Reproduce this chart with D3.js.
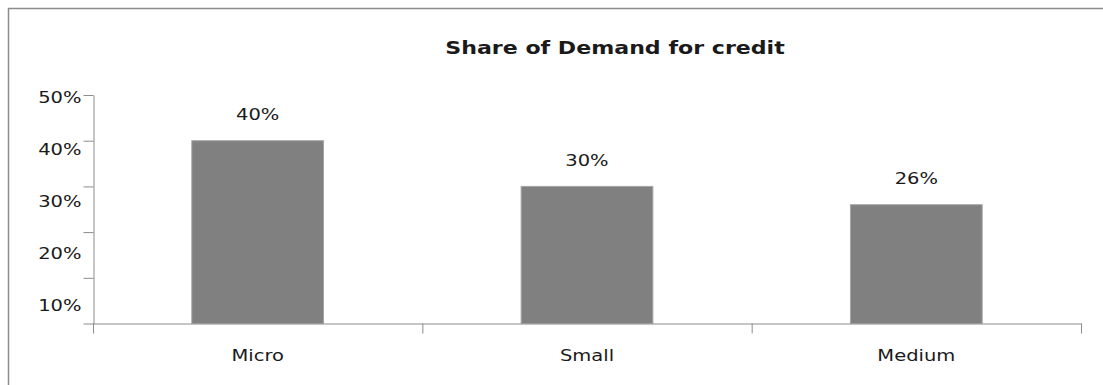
<!DOCTYPE html>
<html>
<head>
<meta charset="utf-8">
<script src="https://cdn.jsdelivr.net/npm/d3@7/dist/d3.min.js"></script>
<style>
  body { margin: 0; background: #fff; }
  text { font-family: "DejaVu Sans", Verdana, sans-serif; fill: #1a1a1a; }
</style>
</head>
<body>
<div id="chart"></div>
<script>
// Chart data
var categories = ["Micro", "Small", "Medium"];
var shares = [40, 30, 26];
var yTicks = [0, 10, 20, 30, 40, 50];
var yTickLabels = ["", "10%", "20%", "30%", "40%", "50%"];
var chartTitle = "Share of Demand for credit";

var svgWidth = 1103;
var svgHeight = 385;

// the picture is stretched sideways, so text gets stretched too
var stretch = 1.3;

var svg = d3.select("#chart")
  .append("svg")
  .attr("width", svgWidth)
  .attr("height", svgHeight);

// frame: only top and left edges show
svg.append("path")
  .attr("d", "M8.5,385 V8.5 H1103")
  .attr("fill", "none")
  .attr("stroke", "#8c8c8c")
  .attr("stroke-width", 1.5);

function widen(sel) {
  sel.each(function() {
    var w = this.getComputedTextLength();
    d3.select(this)
      .attr("textLength", w * stretch)
      .attr("lengthAdjust", "spacingAndGlyphs");
  });
}

// scales
var x = d3.scaleBand()
  .domain(categories)
  .range([93, 1081])
  .paddingInner(0.6)
  .paddingOuter(0.3);

var xEdge = d3.scaleLinear()
  .domain([0, categories.length])
  .range([93, 1081]);

var y = d3.scaleLinear()
  .domain([0, 50])
  .range([323.5, 95]);

// tick labels sit a bit lower than their ticks in the original
var yLabel = d3.scaleLinear()
  .domain([10, 50])
  .range([305, 97]);

// title
svg.append("text")
  .attr("x", 615)
  .attr("y", 54)
  .attr("text-anchor", "middle")
  .style("font-size", "17px")
  .style("font-weight", "bold")
  .text(chartTitle)
  .call(widen);

// bars
svg.selectAll(".bar")
  .data(shares)
  .enter()
  .append("rect")
  .attr("class", "bar")
  .attr("x", (d, i) => x(categories[i]))
  .attr("y", d => y(d))
  .attr("width", x.bandwidth())
  .attr("height", d => y(0) - y(d))
  .attr("fill", "#808080")
  .attr("stroke", "#a6a6a6")
  .attr("stroke-width", 1);

// y axis
var yAxis = svg.append("g")
  .attr("transform", "translate(93.5,0)")
  .call(d3.axisLeft(y)
    .tickValues(yTicks)
    .tickSize(10)
    .tickSizeOuter(0)
    .tickPadding(2)
    .tickFormat((d, i) => yTickLabels[i]));

yAxis.selectAll("path, line").attr("stroke", "#8c8c8c");
yAxis.selectAll("text")
  .style("font-size", "15px")
  .attr("y", d => d === 0 ? 0 : yLabel(d) - y(d))
  .attr("dy", "0.35em")
  .call(widen);

// x axis: boundary ticks
var xAxis = svg.append("g")
  .attr("transform", "translate(0,323.5)")
  .call(d3.axisBottom(xEdge)
    .ticks(categories.length)
    .tickSize(10)
    .tickSizeOuter(0)
    .tickFormat(""));
xAxis.selectAll("path, line").attr("stroke", "#8c8c8c");

// category labels
var xLabels = svg.append("g")
  .attr("transform", "translate(0,356)")
  .call(d3.axisBottom(x).tickSize(0).tickPadding(0));
xLabels.select(".domain").remove();
xLabels.selectAll("text")
  .style("font-size", "15px")
  .attr("dy", "0.35em")
  .call(widen);

// value labels
svg.selectAll(".val")
  .data(shares)
  .enter()
  .append("text")
  .attr("class", "val")
  .attr("x", (d, i) => x(categories[i]) + x.bandwidth() / 2)
  .attr("y", d => y(d) - 26)
  .attr("dy", "0.35em")
  .attr("text-anchor", "middle")
  .style("font-size", "15px")
  .text(d => d + "%")
  .call(widen);
</script>
</body>
</html>
